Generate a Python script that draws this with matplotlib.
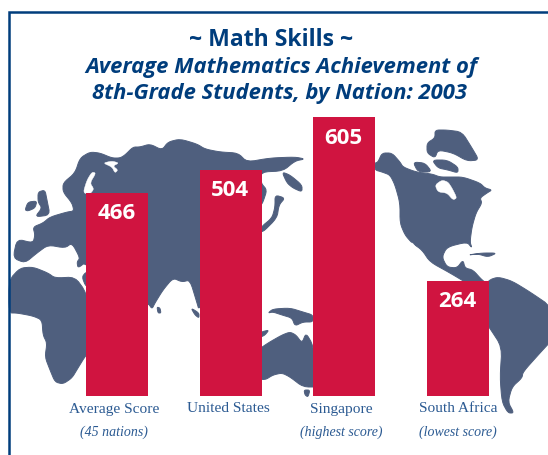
import matplotlib
matplotlib.use("Agg")
import matplotlib.pyplot as plt
from matplotlib.patches import Polygon

# ---- data ----
categories = ["Average Score", "United States", "Singapore", "South Africa"]
subnotes = ["(45 nations)", "", "(highest score)", "(lowest score)"]
score_labels = [466, 504, 605, 264]
# bar lengths, on the scale of the 466 and 264 bars
bar_lengths = [466, 519, 640, 264]
title_top = "~ Math Skills ~"
title_sub = ["Average Mathematics Achievement of", "8th-Grade Students, by Nation: 2003"]

# ---- styles ----
W, H = 548, 455
NAVY = "#003d7c"
LAND = "#4f5f7e"
RED = "#d01440"
LABEL = "#2b5a92"

# ---- decorative world map backdrop (image pixel coordinates) ----
land = [
    # Eurasia with Europe and Scandinavia
    [(13,258),(17,239),(33,243),(35,235),(33,227),(43,223),(50,217),(67,212),(74,211),(72,203),(63,192),(63,183),
     (75,173),(80,158),(90,152),(100,153),(112,158),(120,158),(125,155),(133,147),(140,147),(150,144),(162,150),
     (168,142),(180,139),(197,144),(205,149),(220,152),(238,153),(247,162),(270,158),(295,157),(305,159),(295,161),
     (283,171),(261,172),(261,183),(267,190),(263,202),(261,205),(220,280),(199,310),(197,303),(190,280),(182,282),
     (173,278),(163,290),(155,303),(152,309),(148,303),(110,300),(86,262),(78,268),(77,262),(80,258),(72,243),
     (65,248),(48,245),(37,253),(25,263)],
    # Arabia edge
    [(82,277),(86,272),(100,270),(100,290),(86,287)],
    # Africa
    [(9,280),(20,268),(33,267),(48,273),(55,278),(75,277),(86,292),(100,340),(86,355),(78,368),(72,378),(63,384),
     (55,382),(50,370),(45,357),(47,343),(43,335),(42,320),(33,316),(17,313),(9,313)],
    # Britain, Ireland
    [(38,192),(45,190),(47,200),(50,215),(35,217),(42,208),(38,202)],
    [(25,210),(28,202),(37,201),(35,208),(28,211)],
    # Sri Lanka, Sumatra
    [(157,307),(160,308),(161,313),(158,313)],
    [(191,308),(199,313),(199,318),(195,315)],
    # Kamchatka
    [(282,172),(290,175),(302,185),(302,192),(293,188),(287,183)],
    # Japan
    [(275,195),(285,198),(279,205),(277,218),(262,233),(261,227),(272,218),(275,207)],
    # New Guinea and sliver
    [(268,313),(273,309),(290,308),(303,312),(313,315),(313,322),(303,322),(295,326),(292,318),(282,315),(273,312)],
    [(261,332),(269,330),(265,335),(261,337)],
    # Australia, Tasmania
    [(255,352),(268,343),(282,335),(290,332),(296,335),(302,343),(306,333),(313,345),(320,387),(303,387),(290,377),
     (282,373),(273,375),(265,380),(255,378)],
    [(304,390),(310,390),(308,397),(305,395)],
    # North America
    [(375,163),(378,162),(382,153),(392,153),(400,162),(403,167),(416,172),(432,174),(440,177),(450,177),(463,177),
     (480,183),(485,188),(492,190),(487,193),(480,198),(482,203),(476,213),(472,227),(470,242),(472,248),(467,242),
     (447,247),(442,257),(447,267),(457,268),(463,260),(465,268),(473,270),(482,280),(489,285),(470,285),(450,273),
     (430,262),(422,250),(412,243),(405,235),(400,223),(400,203),(395,185),(390,175),(382,172),(375,170)],
    # Greenland
    [(435,130),(447,130),(462,132),(472,148),(479,160),(467,161),(453,153),(438,150),(435,158),(427,153),(427,143),(435,138)],
    # Arctic islands
    [(413,162),(425,163),(432,172),(418,172)],
    [(432,160),(447,160),(458,167),(458,173),(448,170),(438,168)],
    # Cuba
    [(468,255),(482,253),(497,253),(488,257),(478,254)],
    # South America
    [(489,280),(498,277),(512,281),(530,292),(552,307),(552,340),(540,353),(523,372),(522,378),(512,387),(508,402),
     (514,413),(508,413),(502,402),(500,377),(502,347),(489,327),(470,300)],
]
water = [
    # Baltic, White Sea
    [(83,193),(87,180),(92,172),(96,173),(90,183),(94,189),(90,194)],
    [(103,163),(112,167),(115,173),(118,170),(113,166),(119,163),(112,161)],
    # Hudson Bay
    [(435,185),(442,180),(448,182),(452,188),(457,198),(453,200),(447,193),(438,192)],
    # Baja gulf
    [(410,243),(413,243),(422,258),(419,258)],
]


def rounded(pts, passes=2):
    """Corner-cut an outline so the coasts look soft."""
    for _ in range(passes):
        out = []
        for (x0, y0), (x1, y1) in zip(pts, pts[1:] + pts[:1]):
            out.append((0.8 * x0 + 0.2 * x1, 0.8 * y0 + 0.2 * y1))
            out.append((0.2 * x0 + 0.8 * x1, 0.2 * y0 + 0.8 * y1))
        pts = out
    return pts


fig = plt.figure(figsize=(W / 100, H / 100), dpi=100, facecolor="white")

# full-figure layer in pixel coordinates: frame, map
bg = fig.add_axes([0, 0, 1, 1], zorder=0)
bg.set_xlim(0, W)
bg.set_ylim(H, 0)
bg.axis("off")
for pts in land:
    bg.add_patch(Polygon(rounded(pts), closed=True, fc=LAND, ec=LAND, lw=0.7, joinstyle="round", clip_on=True))
for pts in water:
    bg.add_patch(Polygon(rounded(pts), closed=True, fc="white", ec="white", lw=0.3))
bg.fill_between([0, 8], 0, H, color="white", lw=0, zorder=3)
bg.plot([9, 9, W], [H, 12, 12], color=NAVY, lw=1.8, solid_joinstyle="miter", solid_capstyle="butt", zorder=4)

# bar layer with its own scale
left_px, right_px, base_px, top_px = 40, 530, 396, 100
px_per_unit = 0.4356
step_px = 113.67
ax = fig.add_axes([left_px / W, 1 - base_px / H, (right_px - left_px) / W, (base_px - top_px) / H], zorder=1)
ax.patch.set_alpha(0)
ax.axis("off")
ax.set_xlim((left_px - 117) / step_px, (right_px - 117) / step_px)
ax.set_ylim(0, (base_px - top_px) / px_per_unit)
xs = list(range(len(categories)))
bars = ax.bar(xs, bar_lengths, width=62 / step_px, color=RED, linewidth=0)
for b, s in zip(bars, score_labels):
    ax.annotate(str(s), (b.get_x() + b.get_width() / 2, b.get_height()), xytext=(-0.5, -15), textcoords="offset points",
                ha="center", va="center", color="white", fontsize=16, fontweight="bold", family="Open Sans")

# titles
fig_txt = dict(ha="center", va="center", color=NAVY, family="Open Sans", fontweight="bold")
tx = fig.add_axes([0, 0, 1, 1], zorder=2)
tx.set_xlim(0, W)
tx.set_ylim(H, 0)
tx.axis("off")
tx.text(271, 40, title_top, fontsize=16.6, **fig_txt)
tx.text(281, 67, title_sub[0], fontsize=15.8, style="italic", **fig_txt)
tx.text(280, 94, title_sub[1], fontsize=15.8, style="italic", **fig_txt)

# category labels
label_x = [114, 228, 341, 458]
for x, c, n in zip(label_x, categories, subnotes):
    tx.text(x, 409, c, ha="center", va="center", color=LABEL, fontsize=11.1, family="Liberation Serif")
    if n:
        tx.text(x, 432, n, ha="center", va="center", color=LABEL, fontsize=10, style="italic", family="Liberation Serif")

fig.savefig("out.png", dpi=100, facecolor="white")
